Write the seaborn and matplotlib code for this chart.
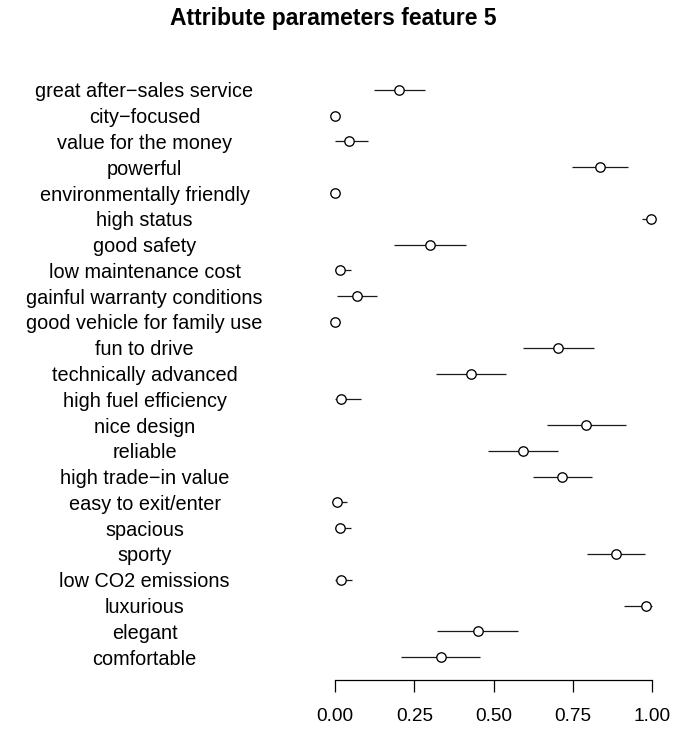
import numpy as np
import pandas as pd
import matplotlib
matplotlib.use("Agg")
import matplotlib.pyplot as plt
import seaborn as sns

# Attribute estimates with lower / upper interval bounds (top to bottom)
attributes = [
    "great after\u2212sales service", "city\u2212focused", "value for the money",
    "powerful", "environmentally friendly", "high status", "good safety",
    "low maintenance cost", "gainful warranty conditions",
    "good vehicle for family use", "fun to drive", "technically advanced",
    "high fuel efficiency", "nice design", "reliable", "high trade\u2212in value",
    "easy to exit/enter", "spacious", "sporty", "low CO2 emissions",
    "luxurious", "elegant", "comfortable",
]
estimate = [0.203, 0.001, 0.045, 0.835, 0.001, 0.995, 0.300, 0.015, 0.069,
            0.001, 0.703, 0.429, 0.020, 0.792, 0.593, 0.716, 0.007, 0.015,
            0.886, 0.018, 0.980, 0.451, 0.333]
lower = [0.124, 0.000, 0.000, 0.748, 0.000, 0.969, 0.187, 0.000, 0.007,
         0.000, 0.592, 0.318, 0.000, 0.668, 0.483, 0.623, 0.000, 0.000,
         0.795, 0.000, 0.910, 0.322, 0.209]
upper = [0.284, 0.003, 0.104, 0.922, 0.003, 1.000, 0.413, 0.049, 0.131,
         0.003, 0.816, 0.540, 0.081, 0.917, 0.703, 0.811, 0.037, 0.049,
         0.977, 0.054, 0.998, 0.578, 0.456]
x_ticks = [0.0, 0.25, 0.5, 0.75, 1.0]
x_tick_labels = ["0.00", "0.25", "0.50", "0.75", "1.00"]
title = "Attribute parameters feature 5"

df = pd.DataFrame({
    "attribute": attributes,
    "estimate": estimate,
    "lower": lower,
    "upper": upper,
})
df["row"] = np.arange(len(df))

sns.set_style("white")
plt.rcParams["font.family"] = ["Liberation Sans", "DejaVu Sans"]
plt.rcParams["text.color"] = "black"
plt.rcParams["xtick.color"] = "black"
plt.rcParams["ytick.color"] = "black"
plt.rcParams["axes.labelcolor"] = "black"

W, H = 673, 731
fig = plt.figure(figsize=(W / 100, H / 100), dpi=100)
left_px, right_px, top_px, bottom_px = 322.3, 665.0, 67.0, 680.0
ax = fig.add_axes([left_px / W, 1 - bottom_px / H,
                   (right_px - left_px) / W, (bottom_px - top_px) / H])

# interval segments
ax.hlines(df["row"], df["lower"], df["upper"], color="#1a1a1a",
          linewidth=0.9, zorder=1)

# point estimates as open circles
sns.scatterplot(data=df, x="estimate", y="row", ax=ax, marker="o", s=46,
                facecolor="white", edgecolor="black", linewidth=0.95,
                zorder=3, legend=False)

ax.set_xlim(-0.04, 1.04)
ax.set_ylim(len(df) - 1 + 0.89, -0.89)

ax.set_yticks(df["row"])
ax.set_yticklabels(df["attribute"], fontsize=14.3, color="black")
for lab in ax.get_yticklabels():
    lab.set_horizontalalignment("center")
pad_px = left_px - 144.5
ax.tick_params(axis="y", length=0, pad=pad_px * 0.72)

ax.set_xticks(x_ticks)
ax.set_xticklabels(x_tick_labels, fontsize=13.7, color="black")
ax.tick_params(axis="x", direction="out", length=8.4, width=0.9,
               color="black", pad=12, bottom=True)

for side in ["top", "right", "left"]:
    ax.spines[side].set_visible(False)
ax.spines["bottom"].set_bounds(0, 1)
ax.spines["bottom"].set_color("black")
ax.spines["bottom"].set_linewidth(0.9)
ax.set_xlabel("")
ax.set_ylabel("")
ax.grid(False)

fig.text(333 / W, 1 - 19 / H, title, ha="center", va="center",
         fontsize=16.5, fontweight="bold", color="black")

fig.savefig("out.png", dpi=100, facecolor="white")
